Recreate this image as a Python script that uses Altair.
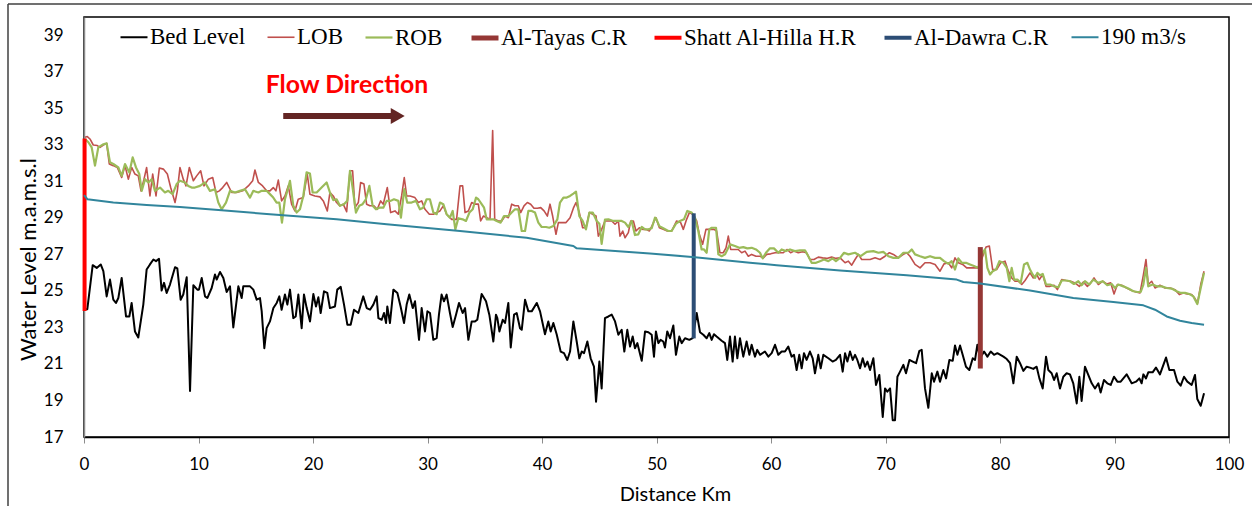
import altair as alt
import pandas as pd

# ---- series definitions -------------------------------------------------
SERIES = ["Bed Level", "LOB", "ROB", "Al-Tayas C.R",
          "Shatt Al-Hilla H.R", "Al-Dawra C.R", "190 m3/s"]
COLORS = ["#000000", "#C0504D", "#9BBB59", "#953735",
          "#FF0000", "#2C4D75", "#31859C"]
WIDTHS = [2, 1.6, 2.2, 5, 4, 4, 2]

# ---- profile data: (distance km, level m.a.m.s.l) ------------------------
BED = [
    (0.09, 24.0), (0.29, 24.0), (0.76, 26.41), (1.11, 26.26), (1.46, 26.45), (1.69, 26.08),
    (1.98, 24.7), (2.27, 25.62), (2.56, 24.52), (2.79, 24.34), (3.0, 24.61), (3.29, 25.71),
    (3.67, 23.6), (3.96, 23.6), (4.16, 24.34), (4.45, 22.78), (4.74, 22.45), (5.18, 24.25),
    (5.47, 26.17), (5.76, 26.45), (6.06, 26.72), (6.29, 26.63), (6.55, 26.76), (6.78, 25.02),
    (6.99, 25.44), (7.22, 24.89), (7.51, 25.35), (7.95, 26.3), (8.15, 26.23), (8.44, 24.52),
    (8.67, 24.8), (8.97, 25.75), (9.26, 19.52), (9.55, 25.31), (9.9, 25.07), (10.04, 25.07),
    (10.28, 25.71), (10.57, 24.7), (10.77, 24.61), (11.15, 25.16), (11.44, 25.9), (11.59, 25.62),
    (11.88, 26.04), (12.17, 25.71), (12.46, 24.94), (12.75, 25.25), (13.04, 23.0), (13.48, 25.25),
    (13.77, 24.61), (13.91, 25.25), (14.5, 25.25), (14.79, 25.07), (15.08, 24.52), (15.37, 24.61),
    (15.52, 23.88), (15.75, 21.86), (15.95, 22.96),
    (16.24, 23.33), (16.54, 24.06), (16.83, 24.34), (17.06, 24.7), (17.26, 23.97), (17.55, 24.8),
    (17.76, 24.25), (17.99, 25.07), (18.28, 23.51), (18.49, 23.6), (18.72, 24.8), (19.01, 22.96),
    (19.21, 24.8), (19.45, 24.06), (19.74, 23.33), (20.03, 24.83), (20.26, 24.15), (20.47, 24.65),
    (20.67, 23.79), (20.96, 24.98), (21.25, 24.89), (21.48, 24.06), (21.92, 24.15), (22.12, 25.07),
    (22.42, 25.22), (22.71, 24.25), (23.0, 23.15), (23.29, 23.15), (23.58, 23.97), (23.96, 23.79),
    (24.39, 24.7), (24.69, 24.06), (24.98, 23.97), (25.27, 24.25), (25.56, 24.7), (25.71, 23.51),
    (26.0, 23.42), (26.2, 23.79), (26.38, 23.24), (26.49, 24.15), (26.72, 23.24), (27.02, 25.07),
    (27.37, 24.89), (27.65, 24.15), (27.95, 23.24), (28.18, 24.25), (28.41, 24.8), (28.71, 24.06),
    (28.91, 24.43), (29.26, 22.32), (29.49, 24.06), (29.78, 22.78), (29.99, 23.88), (30.22, 23.79),
    (30.51, 22.32), (30.8, 22.41), (31.0, 23.7), (31.23, 24.8), (31.44, 24.43), (31.67, 24.8),
    (31.96, 23.79), (32.2, 23.02), (32.49, 23.7), (32.75, 24.34),
    (33.07, 23.79), (33.28, 24.06), (33.57, 22.32), (33.86, 23.33), (34.15, 23.33), (34.35, 23.42),
    (34.73, 24.83), (35.11, 24.43), (35.4, 23.7), (35.75, 22.23), (35.98, 23.7), (36.1, 23.51),
    (36.28, 22.78), (36.57, 23.42), (36.77, 23.24), (37.06, 24.34), (37.27, 21.9), (37.56, 23.7),
    (37.79, 23.79), (38.08, 22.96), (38.23, 22.87), (38.52, 24.52), (38.81, 23.88), (39.1, 23.88),
    (39.54, 24.34), (39.83, 23.88), (40.26, 22.63), (40.55, 23.33), (40.76, 22.78), (40.99, 23.24),
    (41.28, 22.63), (41.63, 21.68), (41.92, 21.59), (42.21, 21.22), (42.45, 21.68), (42.74, 23.33),
    (43.03, 22.23), (43.26, 21.31), (43.47, 21.68), (43.67, 21.59), (43.96, 22.23), (44.25, 21.31),
    (44.54, 20.85), (44.72, 18.93), (45.01, 21.13), (45.21, 19.66), (45.5, 23.51), (45.8, 23.6),
    (46.09, 23.7), (46.38, 23.33), (46.67, 22.6), (46.96, 22.87), (47.19, 21.68), (47.45, 22.87),
    (47.69, 21.95), (47.92, 22.5), (48.12, 21.86), (48.33, 22.14), (48.71, 21.17), (49.0, 22.78),
    (49.29, 22.74), (49.58, 22.6), (49.78, 21.4),
    (49.95, 22.78), (50.16, 22.14), (50.36, 22.32), (50.59, 22.23), (50.74, 21.9), (50.94, 22.78),
    (51.18, 22.41), (51.47, 23.11), (51.7, 21.5), (51.99, 22.5), (52.2, 22.14), (52.49, 22.41),
    (52.87, 22.32), (53.16, 22.41), (53.51, 23.79), (53.8, 22.74), (54.09, 22.6), (54.38, 22.41),
    (54.61, 22.69), (54.82, 22.32), (55.02, 22.63), (55.25, 22.5), (55.69, 22.27), (55.98, 22.14),
    (56.18, 21.22), (56.42, 22.5), (56.65, 21.13), (56.85, 22.5), (57.06, 21.31), (57.29, 22.41),
    (57.58, 21.4), (57.87, 22.23), (58.11, 21.5), (58.31, 22.05), (58.6, 21.4), (58.8, 21.77),
    (59.04, 21.5), (59.47, 21.68), (59.77, 21.4), (60.06, 21.59), (60.35, 22.05), (60.64, 21.5),
    (60.93, 21.68), (61.22, 21.68), (61.51, 21.95), (61.8, 21.4), (62.01, 21.5), (62.24, 20.67),
    (62.47, 21.5), (62.68, 20.76), (62.88, 21.59), (63.11, 21.22), (63.4, 21.68), (63.64, 21.31),
    (63.84, 20.49), (64.13, 21.5), (64.34, 20.76), (64.57, 21.5), (65.01, 21.31), (65.38, 21.13),
    (65.67, 21.22),
    (66.03, 21.5), (66.26, 20.58), (66.47, 21.59), (66.67, 21.13), (66.9, 21.68), (67.14, 21.22),
    (67.34, 21.5), (67.54, 21.22), (67.78, 20.76), (68.01, 21.31), (68.21, 20.85), (68.42, 21.13),
    (68.65, 20.67), (68.94, 21.31), (69.17, 19.85), (69.46, 20.4), (69.76, 18.1), (69.96, 19.66),
    (70.16, 19.48), (70.4, 19.66), (70.63, 17.92), (70.83, 17.92), (71.04, 20.3), (71.27, 20.58),
    (71.56, 20.95), (71.79, 20.49), (72.09, 21.22), (72.38, 21.13), (72.67, 21.04), (72.96, 21.72),
    (73.16, 21.77), (73.45, 19.66), (73.74, 18.6), (74.04, 20.49), (74.24, 20.03), (74.53, 20.58),
    (74.76, 20.03), (75.05, 20.67), (75.29, 20.21), (75.58, 21.22), (75.87, 21.17), (76.07, 22.01),
    (76.28, 21.5), (76.51, 22.01), (76.74, 21.5), (77.03, 20.85), (77.32, 20.67), (77.62, 21.31),
    (77.82, 21.22), (78.02, 22.05), (78.26, 21.31), (78.61, 21.68), (78.9, 21.4), (79.19, 21.68),
    (79.48, 21.5), (79.77, 21.59), (80.3, 21.4), (80.59, 21.27), (80.88, 21.04), (81.17, 19.94),
    (81.46, 21.4), (81.75, 21.04), (82.04, 20.62), (82.33, 20.85),
    (82.62, 20.8), (82.91, 20.73), (83.2, 20.85), (83.44, 20.21), (83.73, 19.66), (84.02, 21.4),
    (84.22, 20.67), (84.51, 20.49), (84.72, 20.12), (84.95, 20.49), (85.24, 19.66), (85.53, 20.3),
    (85.82, 20.49), (86.11, 20.43), (86.4, 19.94), (86.7, 18.84), (86.93, 20.3), (87.13, 18.97),
    (87.42, 20.85), (87.71, 20.4), (88.01, 19.94), (88.3, 19.66), (88.59, 19.94), (88.79, 19.44),
    (89.08, 20.12), (89.37, 19.94), (89.67, 19.85), (89.96, 20.3), (90.25, 20.03), (90.54, 20.03),
    (91.06, 20.43), (91.5, 19.94), (91.88, 20.03), (92.17, 20.21), (92.37, 19.94), (92.52, 20.43),
    (92.75, 20.21), (92.95, 20.54), (93.33, 20.54), (93.62, 20.8), (93.97, 20.43), (94.5, 21.35),
    (94.79, 20.67), (95.2, 20.67), (95.49, 20.03), (95.78, 19.81), (96.07, 20.3), (96.36, 20.03),
    (96.74, 19.85), (97.03, 20.4), (97.23, 19.08), (97.53, 18.71), (97.82, 19.39),
]

LOB = [
    (0.09, 33.41), (0.29, 33.45), (0.52, 33.32), (0.81, 32.99), (1.16, 32.96), (1.4, 32.86),
    (1.75, 33.01), (1.98, 33.08), (2.21, 31.95), (2.56, 31.86), (2.91, 31.76), (3.29, 31.21),
    (3.58, 31.86), (3.87, 31.12), (4.16, 31.76), (4.45, 31.4), (4.74, 31.3), (4.98, 30.48),
    (5.24, 31.12), (5.47, 31.76), (5.76, 30.2), (6.0, 31.4), (6.29, 30.2), (6.58, 31.73),
    (6.93, 31.67), (7.28, 31.4), (7.57, 30.66), (7.95, 29.84), (8.15, 30.48), (8.38, 31.76),
    (8.67, 31.12), (8.91, 30.75), (9.2, 31.76), (9.55, 31.03), (9.84, 31.3), (10.19, 31.58),
    (10.48, 30.75), (10.86, 31.12), (11.24, 31.21), (11.53, 30.39), (11.82, 30.48), (12.11, 30.66),
    (12.46, 30.94), (12.9, 30.39), (13.33, 30.39), (13.86, 30.48), (14.35, 30.75), (14.73, 31.03),
    (14.93, 31.62), (15.23, 30.94), (15.6, 30.75), (15.95, 30.48),
    (16.24, 30.48), (16.53, 30.66), (16.76, 30.48), (16.97, 31.07), (17.26, 29.93), (17.55, 30.2),
    (17.84, 30.75), (18.13, 29.75), (18.42, 29.38), (18.71, 30.02), (19.15, 30.11), (19.5, 31.4),
    (19.73, 30.3), (20.17, 30.2), (20.61, 30.15), (20.9, 29.93), (21.25, 29.38), (21.48, 30.39),
    (21.77, 30.2), (22.06, 29.84), (22.35, 29.66), (22.64, 29.75), (22.94, 29.34), (23.23, 31.58),
    (23.46, 31.58), (23.66, 29.56), (23.96, 29.84), (24.16, 30.94), (24.45, 30.85), (24.68, 29.75),
    (24.97, 29.66), (25.32, 29.66), (25.61, 29.47), (25.91, 29.93), (26.14, 29.75), (26.49, 30.66),
    (26.78, 29.29), (27.16, 29.38), (27.45, 29.2), (27.74, 30.2), (27.97, 31.21), (28.18, 30.2),
    (28.47, 30.2), (28.9, 30.11), (29.2, 29.84), (29.49, 29.93), (29.78, 29.47), (30.16, 29.2),
    (30.51, 29.2), (30.8, 29.29), (31.09, 29.38), (31.38, 29.66), (31.67, 29.2), (32.11, 28.92),
    (32.54, 28.92),
    (32.84, 30.75), (33.07, 30.75), (33.28, 29.29), (33.57, 29.38), (33.86, 29.84), (34.15, 29.75),
    (34.44, 29.75), (34.64, 28.83), (34.88, 29.1), (35.17, 29.01), (35.46, 28.92), (35.69, 33.78),
    (35.87, 28.92), (36.19, 28.83), (36.48, 28.83), (36.77, 29.1), (37.06, 29.01), (37.35, 29.75),
    (37.64, 29.66), (37.93, 29.66), (38.14, 29.29), (38.43, 29.66), (38.72, 29.84), (39.01, 29.75),
    (39.3, 29.53), (39.59, 29.53), (39.89, 29.56), (40.18, 29.38), (40.47, 29.1), (40.7, 29.75),
    (40.93, 29.1), (41.22, 28.1), (41.43, 28.74), (41.72, 28.74), (42.1, 28.74), (42.45, 29.01),
    (42.74, 29.53), (42.97, 29.84), (43.26, 29.29), (43.55, 28.46), (43.84, 28.46), (44.14, 29.29),
    (44.43, 29.2), (44.72, 29.1), (44.92, 28.0), (45.21, 28.37), (45.5, 28.83), (45.8, 28.83),
    (46.09, 28.83), (46.38, 28.65), (46.67, 28.83), (46.81, 28.0), (47.05, 28.28), (47.25, 27.91),
    (47.54, 28.19), (47.75, 28.83), (47.98, 28.83), (48.21, 28.28), (48.5, 28.46), (48.79, 28.37),
    (49.08, 28.37), (49.38, 28.28), (49.67, 28.65), (49.87, 28.92),
    (49.95, 29.01), (50.25, 28.46), (50.59, 28.37), (50.94, 28.28), (51.32, 28.28), (51.76, 28.83),
    (52.11, 28.74), (52.34, 28.37), (52.63, 28.92), (52.87, 29.29), (53.16, 29.2), (53.51, 28.83),
    (53.74, 28.1), (54.03, 27.55), (54.32, 28.37), (54.67, 28.37), (55.02, 28.37), (55.25, 28.28),
    (55.54, 27.09), (55.83, 27.09), (56.07, 27.36), (56.27, 28.0), (56.48, 27.27), (56.85, 27.27),
    (57.14, 27.27), (57.44, 27.09), (57.73, 27.18), (58.02, 26.9), (58.31, 27.0), (58.69, 26.9),
    (59.04, 26.9), (59.33, 26.81), (59.62, 27.0), (59.97, 27.03), (60.35, 27.09), (60.73, 27.09),
    (61.07, 27.09), (61.42, 27.27), (61.71, 27.09), (62.01, 27.18), (62.38, 27.09), (62.76, 27.14),
    (63.11, 27.09), (63.4, 26.72), (63.75, 26.72), (64.13, 26.85), (64.51, 26.81), (64.86, 26.78),
    (65.3, 26.85), (65.67, 26.78),
    (66.03, 26.81), (66.47, 26.54), (66.76, 26.63), (67.05, 26.41), (67.34, 26.72), (67.63, 27.0),
    (67.92, 26.72), (68.21, 26.72), (68.65, 26.72), (69.09, 26.81), (69.52, 26.72), (69.96, 26.9),
    (70.34, 27.09), (70.69, 27.0), (71.12, 26.81), (71.56, 27.0), (71.85, 27.09), (72.14, 26.9),
    (72.58, 26.45), (73.02, 26.26), (73.45, 26.54), (73.89, 26.54), (74.33, 26.45), (74.76, 26.08),
    (75.11, 26.48), (75.49, 26.54), (75.78, 26.26), (76.07, 26.81), (76.36, 26.54), (76.74, 26.45),
    (77.09, 26.26), (77.44, 26.26), (77.82, 26.26), (78.11, 26.26), (78.55, 27.0), (78.78, 27.4),
    (79.07, 27.46), (79.36, 26.17), (79.71, 26.17), (80.06, 26.54), (80.44, 26.63), (80.73, 26.08),
    (81.02, 25.71), (81.31, 25.53), (81.6, 25.53), (81.9, 25.35), (82.19, 25.57),
    (82.62, 25.99), (82.91, 25.71), (83.2, 25.9), (83.44, 25.62), (83.73, 25.9), (84.02, 25.25),
    (84.37, 25.25), (84.72, 25.31), (85.01, 25.07), (85.39, 25.62), (85.76, 25.57), (86.17, 25.53),
    (86.55, 25.44), (86.93, 25.25), (87.28, 25.49), (87.63, 25.25), (87.92, 25.44), (88.21, 25.71),
    (88.59, 25.35), (88.97, 25.53), (89.32, 25.38), (89.67, 25.44), (89.96, 24.83), (90.25, 25.35),
    (90.63, 25.31), (91.06, 25.16), (91.5, 25.02), (91.88, 24.94), (92.23, 24.89), (92.52, 25.86),
    (92.75, 26.72), (92.95, 25.35), (93.25, 25.53), (93.54, 25.16), (93.97, 25.31), (94.41, 25.16),
    (94.85, 25.16), (95.28, 25.07), (95.66, 24.8), (96.01, 24.89), (96.36, 24.83), (96.74, 24.8),
    (97.03, 24.58), (97.26, 24.34), (97.53, 25.35), (97.82, 26.08),
]

ROB = [
    (0.09, 33.32), (0.38, 33.14), (0.67, 32.86), (0.96, 31.86), (1.25, 32.86), (1.63, 33.01),
    (1.98, 33.08), (2.27, 32.04), (2.56, 31.95), (3.0, 31.76), (3.29, 31.3), (3.58, 31.95),
    (3.96, 31.49), (4.25, 32.31), (4.54, 31.76), (4.83, 31.4), (5.04, 30.48), (5.33, 31.12),
    (5.62, 30.94), (5.91, 31.12), (6.2, 30.48), (6.64, 30.66), (7.07, 30.39), (7.36, 30.48),
    (7.74, 30.3), (8.09, 30.85), (8.38, 31.03), (8.82, 30.94), (9.11, 30.75), (9.4, 30.66),
    (9.69, 30.66), (10.13, 30.75), (10.57, 30.94), (11.0, 30.48), (11.44, 30.57), (11.73, 29.84),
    (12.02, 29.47), (12.4, 29.84), (12.75, 30.48), (13.19, 30.39), (13.62, 30.48), (14.06, 30.57),
    (14.5, 30.11), (14.79, 30.48), (15.23, 30.39), (15.52, 30.48), (15.95, 30.48),
    (16.24, 30.3), (16.53, 30.11), (16.82, 29.84), (17.06, 29.84), (17.29, 28.74), (17.55, 30.02),
    (17.84, 30.66), (17.99, 31.03), (18.28, 29.66), (18.57, 29.29), (18.86, 29.47), (19.15, 30.2),
    (19.44, 31.49), (19.73, 31.43), (19.97, 30.39), (20.32, 30.39), (20.75, 30.66), (21.19, 30.94),
    (21.48, 30.39), (21.77, 29.97), (22.06, 30.02), (22.35, 29.66), (22.7, 29.75), (22.99, 29.93),
    (23.23, 31.58), (23.46, 30.66), (23.75, 29.29), (24.04, 29.66), (24.33, 29.75), (24.62, 30.02),
    (24.92, 30.75), (25.21, 29.66), (25.5, 29.47), (25.79, 29.56), (26.14, 29.56), (26.43, 29.93),
    (26.78, 29.93), (27.07, 30.02), (27.45, 29.93), (27.68, 29.01), (27.97, 30.57), (28.23, 29.84),
    (28.61, 29.84), (28.99, 29.93), (29.34, 29.47), (29.63, 29.56), (29.92, 30.02), (30.21, 30.02),
    (30.51, 29.29), (30.8, 29.2), (31.09, 29.84), (31.38, 29.75), (31.67, 29.2), (31.96, 29.01),
    (32.2, 29.38), (32.43, 28.37), (32.69, 28.98),
    (33.07, 28.92), (33.36, 28.83), (33.66, 29.29), (33.95, 29.47), (34.24, 30.11), (34.44, 30.02),
    (34.73, 29.75), (34.94, 29.56), (35.17, 28.92), (35.46, 28.92), (35.75, 28.92), (36.04, 28.83),
    (36.39, 28.74), (36.68, 29.1), (37.06, 29.1), (37.35, 29.29), (37.64, 29.47), (37.93, 29.47),
    (38.23, 28.28), (38.52, 28.28), (38.81, 29.38), (39.1, 29.38), (39.39, 29.29), (39.68, 28.74),
    (39.97, 28.5), (40.35, 28.5), (40.64, 28.46), (40.99, 28.55), (41.34, 28.92), (41.57, 29.84),
    (41.87, 30.11), (42.16, 30.11), (42.45, 30.2), (42.74, 30.33), (42.97, 30.44), (43.26, 29.1),
    (43.55, 28.83), (43.84, 28.37), (44.14, 29.29), (44.43, 29.29), (44.78, 28.83), (45.01, 28.68),
    (45.21, 27.58), (45.5, 28.9), (45.8, 28.92), (46.23, 28.83), (46.67, 28.83), (46.96, 28.83),
    (47.25, 28.74), (47.54, 28.5), (47.83, 28.83), (48.12, 28.06), (48.41, 28.1), (48.71, 28.5),
    (49.0, 28.37), (49.29, 28.37), (49.58, 28.43), (49.87, 29.01),
    (49.95, 28.98), (50.25, 28.55), (50.59, 28.43), (51.03, 28.28), (51.32, 28.28), (51.7, 28.68),
    (52.05, 28.83), (52.4, 28.92), (52.69, 29.38), (53.07, 29.29), (53.36, 29.01), (53.65, 28.28),
    (53.94, 27.27), (54.15, 27.27), (54.38, 27.09), (54.61, 28.37), (54.82, 28.46), (55.2, 28.46),
    (55.4, 27.0), (55.69, 26.9), (55.98, 27.0), (56.42, 27.55), (56.85, 27.46), (57.23, 27.36),
    (57.58, 27.4), (57.93, 27.33), (58.31, 27.36), (58.69, 27.27), (59.04, 27.09), (59.27, 26.78),
    (59.56, 27.09), (59.91, 27.33), (60.26, 27.33), (60.64, 27.09), (60.93, 27.27), (61.31, 27.18),
    (61.66, 27.27), (62.09, 27.18), (62.53, 27.22), (62.97, 27.22), (63.26, 26.9), (63.55, 26.54),
    (63.93, 26.54), (64.28, 26.63), (64.63, 26.72), (65.01, 26.63), (65.38, 26.78), (65.67, 26.63),
    (66.03, 26.81), (66.38, 27.09), (66.76, 27.0), (67.34, 27.09), (67.83, 26.9), (68.36, 27.14),
    (68.94, 27.18), (69.38, 27.09), (69.81, 27.14), (70.25, 26.9), (70.69, 26.81), (71.12, 26.81),
    (71.56, 27.09), (72.0, 27.09), (72.29, 27.27), (72.58, 27.0), (73.02, 26.9), (73.45, 26.81),
    (73.89, 26.9), (74.33, 26.81), (74.76, 26.81), (75.11, 26.63), (75.49, 26.48), (75.78, 26.63),
    (76.07, 26.17), (76.36, 26.78), (76.66, 26.54), (77.03, 26.54), (77.38, 26.45), (77.73, 26.36),
    (78.11, 26.26), (78.49, 27.09), (78.69, 27.27), (78.9, 26.26), (79.13, 25.9), (79.36, 26.08),
    (79.65, 26.17), (79.95, 26.63), (80.3, 26.54), (80.59, 26.26), (80.82, 25.53), (81.02, 26.26),
    (81.23, 25.62), (81.52, 25.62), (81.81, 25.44), (82.1, 26.45), (82.39, 26.54),
    (82.62, 26.17), (82.85, 25.9), (83.06, 25.71), (83.26, 25.99), (83.49, 25.86), (83.73, 25.93),
    (84.02, 25.35), (84.37, 25.35), (84.72, 25.25), (85.1, 25.2), (85.39, 25.57), (85.82, 25.57),
    (86.11, 25.53), (86.46, 25.38), (86.84, 25.53), (87.13, 25.31), (87.42, 25.53), (87.8, 25.35),
    (88.15, 25.62), (88.59, 25.44), (88.97, 25.53), (89.37, 25.31), (89.75, 25.38), (90.04, 25.16),
    (90.33, 25.35), (90.77, 25.25), (91.21, 25.13), (91.65, 24.98), (92.0, 24.94), (92.29, 24.94),
    (92.52, 25.35), (92.75, 26.26), (92.95, 25.25), (93.33, 25.35), (93.68, 25.25), (94.12, 25.25),
    (94.56, 25.16), (94.99, 25.13), (95.43, 24.98), (95.78, 24.89), (96.16, 24.89), (96.54, 24.83),
    (96.89, 24.7), (97.23, 24.28), (97.53, 25.16), (97.82, 25.99),
]

Q190 = [
    (0.0, 30.25), (0.3, 30.02), (2.56, 29.84), (5.47, 29.71), (8.38, 29.6), (12.02, 29.42),
    (16.24, 29.2), (22.06, 28.92), (26.43, 28.65), (32.84, 28.28), (38.66, 27.91), (42.74, 27.46),
    (43.03, 27.33), (49.43, 27.05), (53.36, 26.85), (58.16, 26.54), (60.49, 26.41), (66.03, 26.12),
    (71.85, 25.86), (76.22, 25.62), (76.8, 25.49), (78.26, 25.4), (82.62, 25.02), (86.4, 24.61),
    (89.9, 24.39), (92.52, 24.21), (93.54, 23.97), (94.56, 23.6), (95.72, 23.37), (96.74, 23.24),
    (97.82, 23.15),
]

# Control structures drawn as vertical bars (station km, bottom / top level)
AL_TAYAS = [(78.28, 20.75), (78.28, 27.4)]
SHATT_AL_HILLA = [(0.05, 23.9), (0.05, 33.35)]
AL_DAWRA = [(53.25, 22.4), (53.25, 29.25)]

# Flow direction annotation
FLOW_LABEL = [(22.97, 36.22, "Flow Direction")]
FLOW_ARROW = [(17.4, 27.0, 34.58)]
ARROW_HEAD = [(27.4, 34.58)]

# ---- assemble long table ------------------------------------------------
profiles = dict(zip(SERIES, [BED, LOB, ROB, AL_TAYAS, SHATT_AL_HILLA, AL_DAWRA, Q190]))
rows = []
for name, pts in profiles.items():
    for i, (k, v) in enumerate(pts):
        rows.append({"series": name, "km": k, "level": v, "idx": i})
df = pd.DataFrame(rows)

X_ENC = alt.X(
    "km:Q",
    scale=alt.Scale(domain=[0, 100], nice=False),
    axis=alt.Axis(
        values=list(range(0, 101, 10)), title="Distance Km",
        domainColor="#000000", domainWidth=1.5, labelFlush=False,
        ticks=True, tickSize=6, tickColor="#8c8c8c", tickWidth=1,
        labelPadding=13, titleX=591, titleY=63, titleBaseline="alphabetic",
        titleAnchor="start", titleAlign="center",
    ),
)
Y_ENC = alt.Y(
    "level:Q",
    scale=alt.Scale(domain=[17, 40], nice=False, zero=False),
    axis=alt.Axis(
        values=list(range(17, 40, 2)), title="Water Level m.a.m.s.l",
        domainColor="#8c8c8c", domainWidth=1.5, labelFlush=False,
        ticks=False, tickSize=0, labelPadding=21,
        titleX=-49, titleY=242, titleBaseline="alphabetic", titleAngle=-90,
        titleAlign="center", titleFontSize=22,
    ),
)

legend = alt.Legend(
    orient="none", legendX=34, legendY=5, direction="horizontal", columns=7,
    title=None, symbolType="stroke", symbolSize=729, labelFont="Liberation Serif",
    labelFontSize=23, labelColor="#000000", labelOffset=0, columnPadding=18,
    padding=0, labelLimit=400,
)

base = alt.Chart(df).encode(
    x=X_ENC,
    y=Y_ENC,
    color=alt.Color("series:N", scale=alt.Scale(domain=SERIES, range=COLORS), legend=legend),
    strokeWidth=alt.StrokeWidth(
        "series:N",
        scale=alt.Scale(type="ordinal", domain=SERIES, range=WIDTHS),
        legend=legend,
    ),
    order=alt.Order("idx:Q"),
)

layers = [
    base.transform_filter(alt.datum.series == s).mark_line(strokeJoin="round")
    for s in SERIES
]

text_df = pd.DataFrame(FLOW_LABEL, columns=["km", "level", "label"])
flow_text = alt.Chart(text_df).mark_text(
    font="Lato", fontWeight="bold", fontSize=24.8, color="#FF0000",
    align="center", baseline="middle",
).encode(x=X_ENC, y=Y_ENC, text="label:N")

arrow_df = pd.DataFrame(FLOW_ARROW, columns=["km", "km2", "level"])
arrow_shaft = alt.Chart(arrow_df).mark_rule(color="#632523", strokeWidth=6).encode(
    x=X_ENC, x2="km2:Q", y=Y_ENC
)
head_df = pd.DataFrame(ARROW_HEAD, columns=["km", "level"])
arrow_head = alt.Chart(head_df).mark_point(
    shape="triangle-right", filled=True, color="#632523", opacity=1, size=260
).encode(x=X_ENC, y=Y_ENC)

# outer frame of the figure
frame_df = pd.DataFrame({"k": [0]})
frame_left = alt.Chart(frame_df).mark_rule(color="#404040", strokeWidth=1.5).encode(
    x=alt.value(-76), y=alt.value(-13), y2=alt.value(495)
)
frame_top = alt.Chart(frame_df).mark_rule(color="#404040", strokeWidth=1.5).encode(
    x=alt.value(-76), x2=alt.value(1170), y=alt.value(-13)
)

chart = alt.layer(
    *layers, flow_text, arrow_shaft, arrow_head, frame_left, frame_top
).properties(
    width=1145, height=420,
    autosize=alt.AutoSizeParams(type="none"),
    padding={"left": 84, "top": 17, "right": 23, "bottom": 69},
    background="#FFFFFF",
).configure_view(
    stroke="#000000", strokeWidth=1.5
).configure_axis(
    grid=False, labelFont="Lato", labelFontSize=17, labelColor="#000000",
    titleFont="Lato", titleFontSize=20, titleFontWeight="normal", titleColor="#000000",
)

chart.save("out.html", embed_options={"renderer": "svg", "actions": False})
